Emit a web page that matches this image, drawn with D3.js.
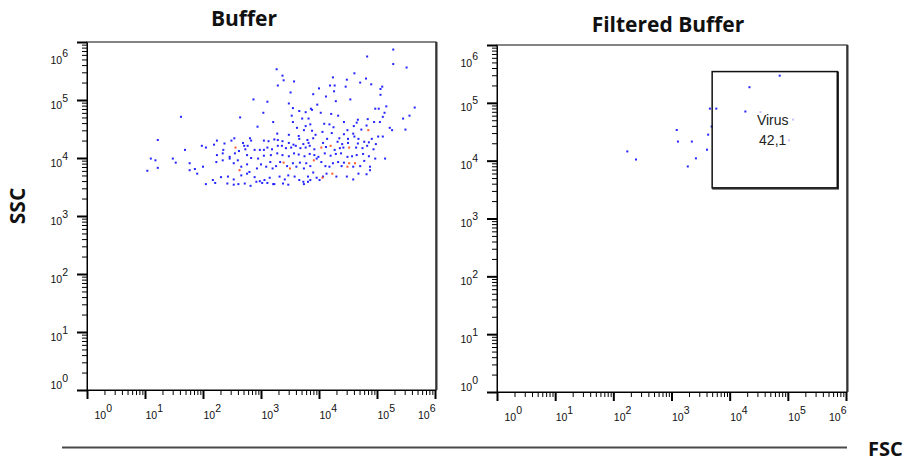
<!DOCTYPE html>
<html>
<head>
<meta charset="utf-8">
<script src="https://cdn.jsdelivr.net/npm/d3@7"></script>
<style>
  body { margin: 0; background: #fff; }
  .tick text { font-family: "Liberation Sans Narrow", "Arial Narrow", "Liberation Sans", sans-serif; font-size: 10.5px; fill: #111; }
  .title { font-family: "Open Sans", sans-serif; font-weight: bold; font-size: 21px; fill: #111; }
  .gate-label { font-family: "Liberation Sans", Arial, sans-serif; font-size: 14px; fill: #222; }
</style>
</head>
<body>
<svg id="chart"></svg>
<script>
// all values are log10 of the measured FSC / SSC signal
const bufferFsc = [
  5.28, 4.83, 5.28, 5.51, 3.27, 4.61, 3.37, 4.24, 3.39, 3.57,
  4.48, 4.81, 3.29, 4.19, 4.27, 4.71, 4.90, 4.46, 5.09, 5.06,
  3.51, 4.26, 4.00, 3.90, 4.12, 5.06, 4.54, 2.87, 3.11, 3.48,
  4.29, 3.97, 3.55, 5.16, 3.86, 5.03, 4.97, 5.65, 3.66, 3.04,
  3.77, 3.88, 4.03, 5.13, 1.62, 2.64, 3.53, 4.21, 4.33, 5.56,
  5.10, 3.71, 3.82, 4.67, 5.45, 3.21, 3.55, 4.43, 4.84, 4.65,
  3.85, 4.18, 2.94, 3.77, 4.09, 4.25, 4.60, 4.82, 4.95, 5.05,
  5.22, 5.49, 3.62, 3.74, 4.06, 4.49, 4.73, 3.88, 5.26, 3.94,
  4.22, 4.43, 4.59, 4.61, 5.10, 3.28, 3.48, 3.65, 1.22, 2.54,
  2.81, 3.23, 3.29, 3.66, 3.80, 3.90, 4.14, 4.35, 4.50, 4.68,
  4.91, 5.02, 2.24, 2.49, 2.69, 2.83, 3.05, 3.13, 3.37, 3.48,
  3.56, 3.73, 3.82, 4.07, 4.32, 4.40, 4.50, 4.67, 4.78, 4.86,
  4.98, 1.69, 1.98, 2.05, 2.19, 2.35, 2.37, 2.71, 2.73, 2.77,
  2.89, 2.98, 3.05, 3.11, 3.19, 3.29, 3.36, 3.43, 3.52, 3.60,
  3.68, 3.77, 3.84, 3.92, 4.12, 4.27, 4.36, 4.42, 4.64, 4.75,
  4.83, 4.94, 5.14,
  2.24, 2.34, 2.46, 2.55, 2.62, 2.76, 2.83, 2.95, 3.05, 3.17,
  3.28, 3.37, 3.48, 3.57, 3.65, 3.75, 3.84, 3.92, 3.99, 4.10,
  4.20, 4.29, 4.38, 4.49, 4.57, 4.65, 4.76, 4.86, 4.97,
  1.10, 1.18, 1.48, 1.53, 1.77, 1.86, 1.90, 2.00, 2.23, 2.34, 2.46, 2.53, 2.60,
  2.66, 2.76, 2.80, 2.93, 3.00, 3.09, 3.16, 3.20, 3.26, 3.33,
  3.45,
  3.55, 3.61, 3.67, 3.74, 3.78, 3.85,
  3.96, 4.04, 4.11, 4.18, 4.24, 4.33, 4.39, 4.43,
  4.59,
  4.71, 4.78, 4.88, 1.04, 1.22, 1.77, 2.31, 2.43, 2.53, 2.61,
  2.66, 2.76, 2.89, 2.98, 3.06, 3.15, 3.21, 3.23, 3.32, 3.41,
  3.47, 3.58, 3.66, 3.73, 3.81, 3.85, 3.90, 3.96, 4.01, 4.07,
  4.13,
  4.30, 4.48, 4.59, 4.68, 4.82, 4.88, 2.05, 2.17, 2.21, 2.42,
  2.53, 2.72, 2.82, 2.92, 3.02, 3.11, 3.38, 3.47, 3.74, 3.81
];
const bufferSsc = [
  5.87, 5.75, 5.62, 5.56, 5.53, 5.46, 5.42, 5.39, 5.34, 5.32,
  5.35, 5.37, 5.25, 5.25, 5.25, 5.30, 5.27, 5.23, 5.23, 5.19,
  5.13, 5.15, 5.20, 5.10, 5.06, 5.09, 5.01, 5.01, 4.97, 4.94,
  4.98, 4.92, 4.86, 4.89, 4.85, 4.85, 4.85, 4.87, 4.81, 4.78,
  4.79, 4.83, 4.78, 4.78, 4.71, 4.70, 4.73, 4.76, 4.73, 4.73,
  4.71, 4.68, 4.68, 4.66, 4.68, 4.62, 4.62, 4.62, 4.67, 4.61,
  4.58, 4.58, 4.54, 4.55, 4.59, 4.53, 4.55, 4.56, 4.62, 4.62,
  4.52, 4.49, 4.52, 4.48, 4.45, 4.48, 4.49, 4.47, 4.48, 4.40,
  4.43, 4.41, 4.42, 4.37, 4.37, 4.42, 4.40, 4.38, 4.31, 4.34,
  4.34, 4.32, 4.31, 4.33, 4.31, 4.34, 4.33, 4.34, 4.33, 4.33,
  4.33, 4.37, 4.30, 4.30, 4.26, 4.30, 4.30, 4.29, 4.29, 4.26,
  4.23, 4.24, 4.26, 4.26, 4.28, 4.24, 4.26, 4.25, 4.28, 4.27,
  4.24, 4.14, 4.21, 4.18, 4.23, 4.14, 4.25, 4.21, 4.15, 4.21,
  4.14, 4.14, 4.14, 4.18, 4.15, 4.21, 4.21, 4.17, 4.18, 4.21,
  4.17, 4.18, 4.21, 4.15, 4.19, 4.14, 4.17, 4.18, 4.18, 4.17,
  4.21, 4.15, 3.99,
  4.05, 4.08, 3.99, 4.08, 4.12, 4.05, 4.00, 3.99, 4.04, 4.05,
  4.08, 4.05, 4.03, 4.08, 4.06, 4.03, 4.07, 4.05, 4.02, 4.08,
  4.04, 4.07, 4.08, 4.02, 4.03, 4.05, 4.07, 4.03, 3.99,
  3.99, 3.96, 3.99, 3.92, 3.91, 3.81, 3.73, 3.85, 3.93, 3.96, 4.02, 3.91, 3.96,
  3.85, 3.89, 3.76, 3.82, 3.89, 3.85, 3.93, 3.82, 3.86, 3.93,
  3.86,
  3.91, 3.85, 3.92, 3.82, 3.91, 3.86,
  3.99, 3.93, 3.86, 3.85, 3.91, 3.93, 3.86, 3.92,
  3.85,
  3.86, 3.95, 3.85, 3.78, 3.83, 3.79, 3.67, 3.68, 3.63, 3.55,
  3.70, 3.73, 3.67, 3.60, 3.62, 3.66, 3.55, 3.55, 3.68, 3.63,
  3.70, 3.68, 3.62, 3.59, 3.68, 3.62, 3.75, 3.66, 3.62, 3.68,
  3.73,
  3.68, 3.68, 3.63, 3.73, 3.72, 3.79, 3.55, 3.62, 3.57, 3.56,
  3.54, 3.56, 3.52, 3.59, 3.57, 3.57, 3.56, 3.54, 3.55, 3.59
];
// events drawn in orange (higher density) in the buffer plot
const bufferHotFsc = [2.56, 4.04, 4.20, 4.52, 2.63, 3.39, 3.50, 3.91, 4.49, 4.52, 4.62, 4.23, 4.06, 4.85];
const bufferHotSsc = [4.18, 4.18, 4.21, 4.18, 3.79, 3.92, 3.82, 3.96, 3.85, 3.91, 3.91, 3.73, 3.66, 4.48];

const filteredFsc = [4.86, 4.34, 3.66, 3.77, 4.27, 3.69, 3.09, 3.63, 3.11, 3.35, 3.61, 2.24, 2.39, 3.42, 3.28];
const filteredSsc = [5.47, 5.27, 4.90, 4.90, 4.85, 4.59, 4.53, 4.45, 4.33, 4.33, 4.19, 4.16, 4.02, 4.04, 3.90];
// faint events behind the gate label
const filteredFaintFsc = [4.53, 5.09, 5.02];
const filteredFaintSsc = [4.84, 4.71, 4.35];

// "Virus" gate, FSC and SSC limits
const gateFsc = [5000, 708000];
const gateSsc = [3390, 347000];
const gateName = "Virus";
const gatePercent = "42,1";

const decades = [0, 1, 2, 3, 4, 5, 6];
const titles = ["Buffer", "Filtered Buffer"];

const width = 912;
const height = 461;

const majorTicks = decades.map(d => Math.pow(10, d));
const minorTicks = [];
decades.slice(0, -1).forEach(d => {
  for (let k = 2; k < 10; k++) minorTicks.push(k * Math.pow(10, d));
});

const svg = d3.select("#chart").attr("width", width).attr("height", height);

const panels = [
  { title: titles[0], titleX: 244, titleY: 26, left: 87, right: 435, top: 42, bottom: 390,
    fsc: bufferFsc, ssc: bufferSsc, hotFsc: bufferHotFsc, hotSsc: bufferHotSsc },
  { title: titles[1], titleX: 668, titleY: 32, left: 497, right: 846, top: 45, bottom: 392,
    fsc: filteredFsc, ssc: filteredSsc, faintFsc: filteredFaintFsc, faintSsc: filteredFaintSsc, gate: true }
];

function expLabel(text) {
  text.text(null);
  text.append("tspan").text("10");
  text.append("tspan").attr("dy", -7).text(d => Math.round(Math.log10(d)));
}

panels.forEach(p => {
  const x = d3.scaleLog().domain([1, 1e6]).range([p.left, p.right]);
  const y = d3.scaleLog().domain([1, 1e6]).range([p.bottom, p.top]);
  const g = svg.append("g");

  // frame
  g.append("rect")
    .attr("x", p.left).attr("y", p.top)
    .attr("width", p.right - p.left + 1).attr("height", p.bottom - p.top)
    .attr("fill", "none").attr("stroke", "#333").attr("stroke-width", 1.2);
  g.append("line")
    .attr("x1", p.right + 1.5).attr("x2", p.right + 1.5)
    .attr("y1", p.top).attr("y2", p.bottom)
    .attr("stroke", "#333").attr("stroke-width", 2);

  // minor ticks
  g.append("g").attr("transform", `translate(${p.left},0)`)
    .call(d3.axisLeft(y).tickValues(minorTicks).tickSize(5).tickFormat(""))
    .call(a => a.select(".domain").remove());
  g.append("g").attr("transform", `translate(0,${p.bottom})`)
    .call(d3.axisBottom(x).tickValues(minorTicks).tickSize(5).tickFormat(""))
    .call(a => a.select(".domain").remove());

  // major ticks + labels
  g.append("g").attr("transform", `translate(${p.left},0)`)
    .call(d3.axisLeft(y).tickValues(majorTicks).tickSize(10).tickSizeOuter(0).tickPadding(9))
    .call(a => a.select(".domain").attr("stroke", "#000"))
    .call(a => a.selectAll(".tick line").attr("stroke-width", 2))
    .call(a => a.selectAll(".tick text")
      .attr("dy", null)
      .attr("y", (d, i) => i === 0 ? -2 : i === 6 ? 21 : 8)
      .call(expLabel));

  g.append("g").attr("transform", `translate(0,${p.bottom})`)
    .call(d3.axisBottom(x).tickValues(majorTicks).tickSize(9).tickSizeOuter(0))
    .call(a => a.select(".domain").attr("stroke", "#000"))
    .call(a => a.selectAll(".tick line").attr("stroke-width", 2))
    .call(a => a.selectAll(".tick text")
      .attr("dy", null)
      .attr("y", 29)
      .attr("x", (d, i) => i === 0 ? 7 : 0)
      .attr("text-anchor", (d, i) => i === 6 ? "end" : "start")
      .call(expLabel));

  // events
  g.append("g").selectAll("rect")
    .data(d3.zip(p.fsc, p.ssc))
    .join("rect")
    .attr("x", d => x(10 ** d[0]) - 1)
    .attr("y", d => y(10 ** d[1]) - 1)
    .attr("width", 2).attr("height", 2)
    .attr("fill", "#2424ff");

  if (p.hotFsc) {
    g.append("g").selectAll("rect")
      .data(d3.zip(p.hotFsc, p.hotSsc))
      .join("rect")
      .attr("x", d => x(10 ** d[0]) - 1)
      .attr("y", d => y(10 ** d[1]) - 1)
      .attr("width", 2).attr("height", 2)
      .attr("fill", "#ff5a2a");
  }
  if (p.faintFsc) {
    g.append("g").selectAll("rect")
      .data(d3.zip(p.faintFsc, p.faintSsc))
      .join("rect")
      .attr("x", d => x(10 ** d[0]) - 1)
      .attr("y", d => y(10 ** d[1]) - 1)
      .attr("width", 2).attr("height", 2)
      .attr("fill", "#c4c4ff");
  }

  if (p.gate) {
    const gx0 = x(gateFsc[0]), gx1 = x(gateFsc[1]);
    const gy0 = y(gateSsc[1]), gy1 = y(gateSsc[0]);
    g.append("rect")
      .attr("x", gx0).attr("y", gy0)
      .attr("width", gx1 - gx0).attr("height", gy1 - gy0)
      .attr("fill", "none").attr("stroke", "#111").attr("stroke-width", 1.5);
    g.append("polyline")
      .attr("points", `${gx1 + 1},${gy0} ${gx1 + 1},${gy1 + 1} ${gx0},${gy1 + 1}`)
      .attr("fill", "none").attr("stroke", "#111").attr("stroke-width", 1.2);
    const cx = (gx0 + gx1) / 2 - 2;
    g.append("text").attr("class", "gate-label")
      .attr("x", cx).attr("y", gy0 + 53).attr("text-anchor", "middle").text(gateName);
    g.append("text").attr("class", "gate-label")
      .attr("x", cx).attr("y", gy0 + 73).attr("text-anchor", "middle").text(gatePercent);
  }

  svg.append("text").attr("class", "title")
    .attr("x", p.titleX).attr("y", p.titleY)
    .attr("text-anchor", "middle").text(p.title);
});

// shared axis titles
svg.append("text").attr("class", "title")
  .attr("transform", "translate(25,206) rotate(-90)")
  .attr("text-anchor", "middle").text("SSC");

svg.append("line")
  .attr("x1", 62).attr("x2", 847).attr("y1", 447.5).attr("y2", 447.5)
  .attr("stroke", "#4a4a4a").attr("stroke-width", 2);

svg.append("text").attr("class", "title")
  .attr("x", 868).attr("y", 456).style("font-size", "20px").text("FSC");
</script>
</body>
</html>
